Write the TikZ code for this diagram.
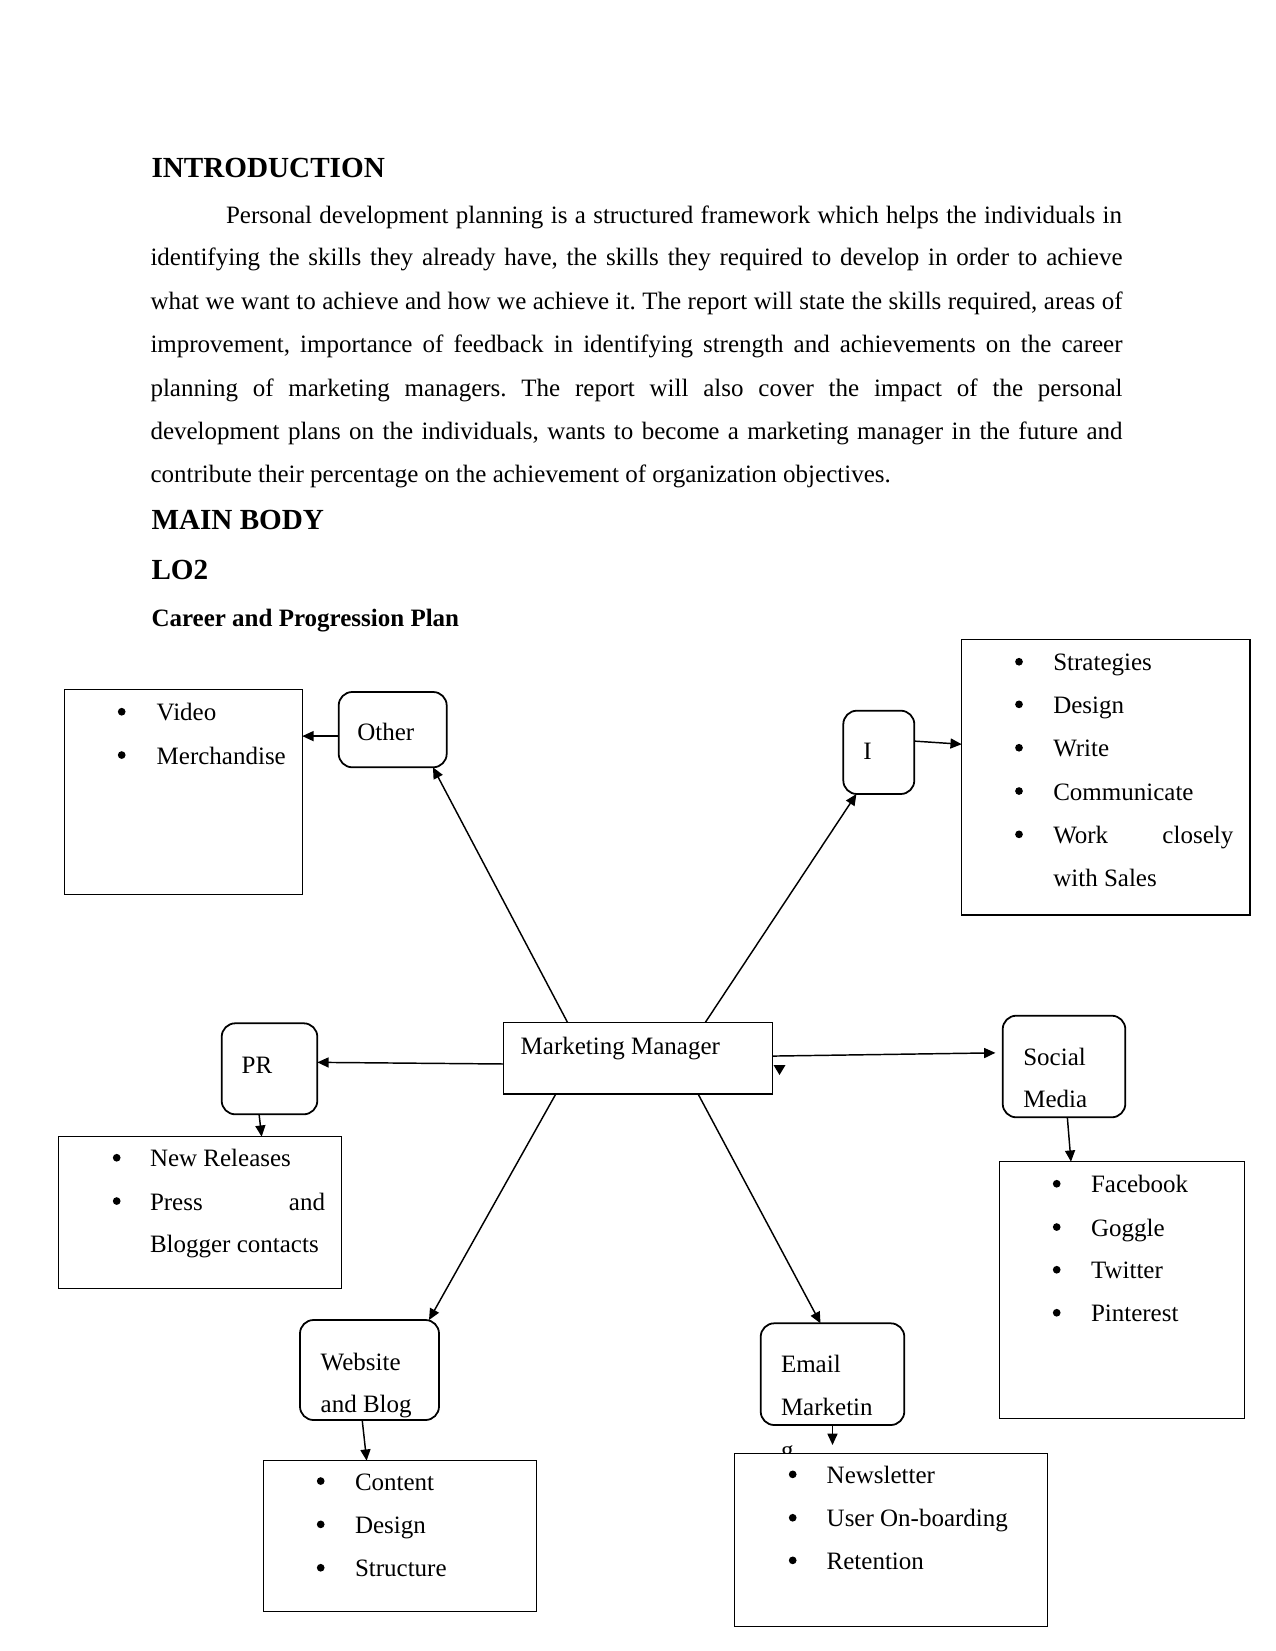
\documentclass[tikz,border=0pt]{standalone}
\usepackage{fontspec}
\setmainfont{Liberation Serif}
\usetikzlibrary{arrows.meta,fit}
\newcommand{\jline}[2]{\makebox[\dimexpr0.48pt*#1\relax][s]{#2}}
\frenchspacing
\tikzset{
 txt/.style={anchor=base west, inner sep=0pt, outer sep=0pt, font=\fontsize{12pt}{14pt}\selectfont\frenchspacing},
 bul/.style={circle, fill, draw=none, inner sep=0pt, outer sep=0pt, minimum size=3.7pt, yshift=4.3pt},
 head/.style={txt, font=\fontsize{14pt}{16pt}\selectfont\bfseries},
 subhead/.style={txt, font=\fontsize{12pt}{14pt}\selectfont\bfseries},
 rbox/.style={draw, rounded corners=6.5pt, line width=0.85pt, inner sep=0pt, outer sep=0pt},
 lbox/.style={draw, line width=0.7pt, inner sep=0pt, outer sep=0pt, fill=white},
 conn/.style={-{Triangle[length=5.4pt,width=4.8pt]}, line width=0.7pt},
}
\begin{document}
\begin{tikzpicture}[x=0.48pt,y=-0.48pt]
\useasboundingbox (0,0) rectangle (1275,1651);
\fill[white] (0,0) rectangle (1275,1651);

% ---------- Text ----------
\node[head] (intro) at (151.5,177.3) {INTRODUCTION};
\node[txt] (p1) at (226,223.3) {\jline{896}{Personal development planning is a structured framework which helps the individuals in}};
\node[txt] (p2) at (150.5,266) {\jline{972}{identifying the skills they already have, the skills they required to develop in order to achieve}};
\node[txt] (p3) at (150.5,309.3) {\jline{972}{what we want to achieve and how we achieve it. The report will state the skills required, areas of}};
\node[txt] (p4) at (150.5,352.7) {\jline{972}{improvement, importance of feedback in identifying strength and achievements on the career}};
\node[txt] (p5) at (150.5,396) {\jline{972}{planning of marketing managers. The report will also cover the impact of the personal}};
\node[txt] (p6) at (150.5,439.3) {\jline{972}{development plans on the individuals, wants to become a marketing manager in the future and}};
\node[txt] (p7) at (150.5,482) {contribute their percentage on the achievement of organization objectives.};
\node[head] (mainbody) at (151.5,529.3) {MAIN BODY};
\node[head] (lo2) at (151.5,579.3) {LO2};
\node[subhead] (career) at (151.5,626) {Career and Progression Plan};

% ---------- Boxes ----------
\node[lbox, fit={(64.3,689.3) (302.3,894.3)}] (video) {};
\node[rbox, fit={(338.7,692) (446.7,767.3)}] (other) {};
\node[rbox, fit={(843.3,710.7) (914.3,794)}] (i) {};
\node[lbox, fit={(961.7,639.3) (1250,915)}] (strat) {};
\node[lbox, fit={(503.3,1022.3) (772.7,1094)}] (mm) {};
\node[rbox, fit={(221.7,1023.3) (317.3,1114.3)}] (pr) {};
\node[lbox, fit={(58.3,1136.7) (341.7,1288.3)}] (nr) {};
\node[rbox, fit={(1002.7,1015.7) (1125.3,1117.3)}] (sm) {};
\node[lbox, fit={(999.3,1161.7) (1244.3,1418.3)}] (fb) {};
\node[rbox, fit={(300,1320) (439,1420)}] (web) {};
\node[lbox, fit={(263.3,1460.7) (536.7,1611.7)}] (cont) {};
\node[rbox, fit={(760.7,1323.3) (904.3,1425)}] (email) {};

% box texts
\node[txt] (tother) at (357.3,740.7) {Other};
\node[txt] (ti) at (863.3,759.3) {I};
\node[txt] (tmm) at (520.7,1054) {Marketing Manager};
\node[txt] (tpr) at (241.7,1073.3) {PR};
\node[txt] (tsm1) at (1023.3,1065) {Social};
\node[txt] (tsm2) at (1023.3,1107.3) {Media};
\node[txt] (tweb1) at (320.7,1370) {Website};
\node[txt] (tweb2) at (320.7,1412.3) {and Blog};
\node[txt] (tem1) at (781,1372.7) {Email};
\node[txt] (tem2) at (781,1415.3) {Marketin};
\node[txt] (tem3) at (781,1458) {g};

% newsletter box covers the wrapped letter
\node[lbox, fit={(734.3,1453.3) (1047.3,1626.7)}] (news) {};

% list: video
\node[bul] (bv1) at (121.7,720.7) {};
\node[txt] (v1) at (156.7,720.7) {Video};
\node[bul] (bv2) at (121.7,764) {};
\node[txt] (v2) at (156.7,764) {Merchandise};

% list: strategies
\node[bul] (bs1) at (1019,670.7) {};
\node[txt] (s1) at (1053.3,670.7) {Strategies};
\node[bul] (bs2) at (1019,713.3) {};
\node[txt] (s2) at (1053.3,713.3) {Design};
\node[bul] (bs3) at (1019,756.7) {};
\node[txt] (s3) at (1053.3,756.7) {Write};
\node[bul] (bs4) at (1019,800) {};
\node[txt] (s4) at (1053.3,800) {Communicate};
\node[bul] (bs5) at (1019,843.3) {};
\node[txt] (s5) at (1053.3,843.3) {\jline{180}{Work closely}};
\node[txt] (s6) at (1053.3,886.7) {with Sales};

% list: PR
\node[bul] (bn1) at (116.7,1166.7) {};
\node[txt] (n1) at (150,1166.7) {New Releases};
\node[bul] (bn2) at (116.7,1210) {};
\node[txt] (n2) at (150,1210) {\jline{175}{Press and}};
\node[txt] (n3) at (150,1252.7) {Blogger contacts};

% list: social media
\node[bul] (bf1) at (1056.7,1192.7) {};
\node[txt] (f1) at (1091,1192.7) {Facebook};
\node[bul] (bf2) at (1056.7,1236) {};
\node[txt] (f2) at (1091,1236) {Goggle};
\node[bul] (bf3) at (1056.7,1278.7) {};
\node[txt] (f3) at (1091,1278.7) {Twitter};
\node[bul] (bf4) at (1056.7,1321.7) {};
\node[txt] (f4) at (1091,1321.7) {Pinterest};

% list: website
\node[bul] (bc1) at (320.7,1490) {};
\node[txt] (c1) at (355,1490) {Content};
\node[bul] (bc2) at (320.7,1533.3) {};
\node[txt] (c2) at (355,1533.3) {Design};
\node[bul] (bc3) at (320.7,1576.7) {};
\node[txt] (c3) at (355,1576.7) {Structure};

% list: email
\node[bul] (be1) at (792.7,1483.3) {};
\node[txt] (e1) at (826.7,1483.3) {Newsletter};
\node[bul] (be2) at (792.7,1526.7) {};
\node[txt] (e2) at (826.7,1526.7) {User On-boarding};
\node[bul] (be3) at (792.7,1569.3) {};
\node[txt] (e3) at (826.7,1569.3) {Retention};

% ---------- Connectors ----------
\draw[conn] ([xshift=30.8pt]mm.north west) -- ([xshift=-6.6pt]other.south east);
\draw[conn] ([xshift=97pt]mm.north west) -- ([xshift=6.3pt]i.south west);
\draw[conn] ([yshift=5.4pt]i.east) -- ([yshift=15.8pt]strat.west);
\draw[conn] ([yshift=-3.1pt]other.west) -- ([yshift=-3.1pt]other.west -| video.east);
\draw[conn] ([yshift=-2.8pt]mm.west) -- ([yshift=3.1pt]pr.east);
\draw[conn] ([xshift=-5pt]pr.south) -- ([xshift=29.6pt]nr.north);
\draw[conn, shorten >=3.5pt] ([yshift=1pt]mm.east) -- ([yshift=6.6pt]sm.west);
\draw[conn] ([xshift=1.6pt]sm.south) -- ([xshift=-24.4pt]fb.north);
\draw[conn] ([xshift=25.2pt]mm.south west) -- ([xshift=-4.8pt]web.north east);
\draw[conn] ([xshift=93.5pt]mm.south west) -- ([xshift=28.7pt]email.north west);
\draw[conn] ([xshift=-3.5pt]web.south) -- ([xshift=-16pt]cont.north);
\draw[conn, shorten >=4pt] (email.south) -- (email.south |- news.north);

% stray arrowhead beside the Marketing Manager box
\fill (773.5,1065) -- (785.5,1065) -- (779.5,1075) -- cycle;
\end{tikzpicture}
\end{document}
